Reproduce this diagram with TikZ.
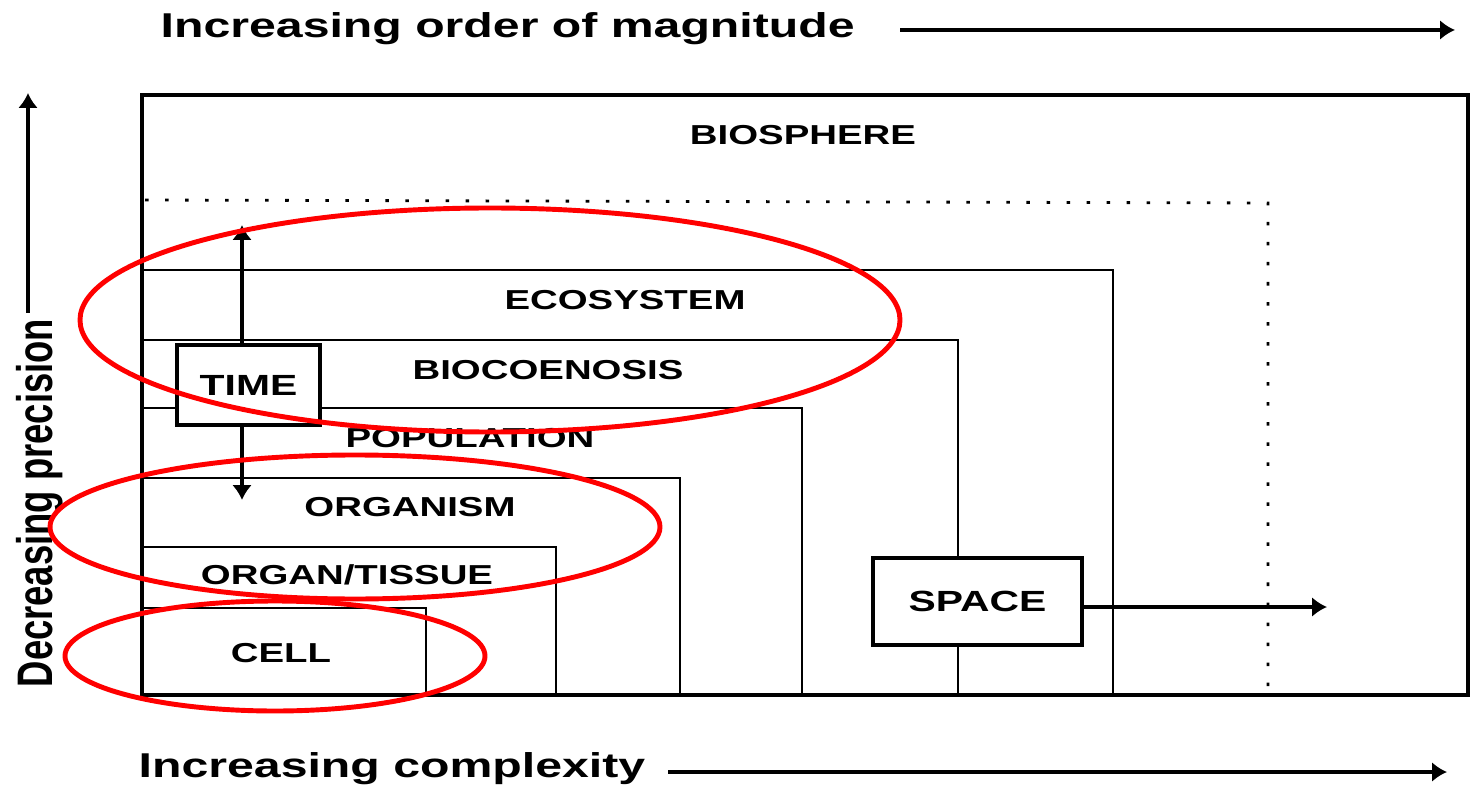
\documentclass[tikz,border=0pt]{standalone}
\usepackage{fontspec}
\setmainfont{Liberation Sans}
\newfontfamily\widefont[FakeStretch=1.4]{Liberation Sans}
\newfontfamily\tallfont[FakeStretch=0.73]{Liberation Sans}
\usetikzlibrary{arrows.meta}

\begin{document}
\begin{tikzpicture}[
    level/.style={font=\widefont\bfseries\fontsize{7.8}{10}\selectfont},
    tag/.style={draw, line width=0.9pt, fill=white, inner sep=0pt,
                font=\widefont\bfseries\fontsize{8.3}{10}\selectfont},
    axis/.style={font=\widefont\bfseries\fontsize{9.8}{12}\selectfont, inner sep=0pt},
    ring/.style={draw=red, line width=1.4pt},
    arr/.style={-{Latex[length=1.5mm,width=2mm]}, line width=1pt}
]
\useasboundingbox (0,0) rectangle (14.73,7.85);

% Draw the nested levels
        \draw[line width=0.6pt] (1.42,0.90) rectangle (11.13,5.15);
        \draw[line width=0.6pt] (1.42,0.90) rectangle (9.58,4.45);
        \draw[line width=0.6pt] (1.42,0.90) rectangle (8.02,3.77);
        \draw[line width=0.6pt] (1.42,0.90) rectangle (6.80,3.07);
        \draw[line width=0.6pt] (1.42,0.90) rectangle (5.56,2.38);
        \draw[line width=0.6pt] (1.42,0.90) rectangle (4.26,1.77);
        \draw[line width=0.8pt, dash pattern=on 1pt off 4.7pt]
          (1.45,5.85) -- (12.68,5.82) -- (12.68,0.90);
        \draw[line width=1.2pt] (1.42,0.90) rectangle (14.68,6.90);

% Draw level names
        \node[level] (bios) at (8.03,6.50) {BIOSPHERE};
        \node[level] (ecos) at (6.25,4.85) {ECOSYSTEM};
        \node[level] (bioc) at (5.48,4.15) {BIOCOENOSIS};
        \node[level] (popu) at (4.70,3.47) {POPULATION};
        \node[level] (orgm) at (4.10,2.78) {ORGANISM};
        \node[level] (orgt) at (3.47,2.10) {ORGAN/TISSUE};
        \node[level] (cell) at (2.81,1.32) {CELL};

% Time and space
        \coordinate (tu) at (2.42,5.60);
        \coordinate (td) at (2.42,2.85);
        \coordinate (sr) at (13.27,1.78);
        \node[tag, minimum width=1.43cm, minimum height=0.80cm] (time) at (2.485,4.00) {TIME};
        \node[tag, minimum width=2.09cm, minimum height=0.87cm] (space) at (9.775,1.835) {SPACE};
        \draw[arr, line width=0.9pt] (time.north -| tu) -- (tu);
        \draw[arr, line width=0.9pt] (time.south -| td) -- (td);
        \draw[arr, line width=0.9pt] (space.east |- sr) -- (sr);

% Draw the axes
        \node[axis, anchor=base west] (magn) at (1.60,7.47) {Increasing order of magnitude};
        \node[axis, anchor=base west] (comp) at (1.38,0.08) {Increasing complexity};
        \node[font=\tallfont\bfseries\fontsize{14.2}{16}\selectfont, rotate=90, anchor=base west, inner sep=0pt]
          (prec) at (0.52,0.97) {Decreasing precision};
        \coordinate (mr) at (14.55,7.55);
        \coordinate (cr) at (14.47,0.13);
        \coordinate (pt) at (0.28,6.92);
        \draw[arr] (9.00,7.55) -- (mr);
        \draw[arr] (6.68,0.13) -- (cr);
        \draw[arr] (0.28,4.72) -- (pt);

% Red marks
        \draw[ring] (4.90,4.65) ellipse (4.10 and 1.12);
        \draw[ring] (3.55,2.58) ellipse (3.05 and 0.72);
        \draw[ring] (2.75,1.29) ellipse (2.10 and 0.55);
\end{tikzpicture}
\end{document}
